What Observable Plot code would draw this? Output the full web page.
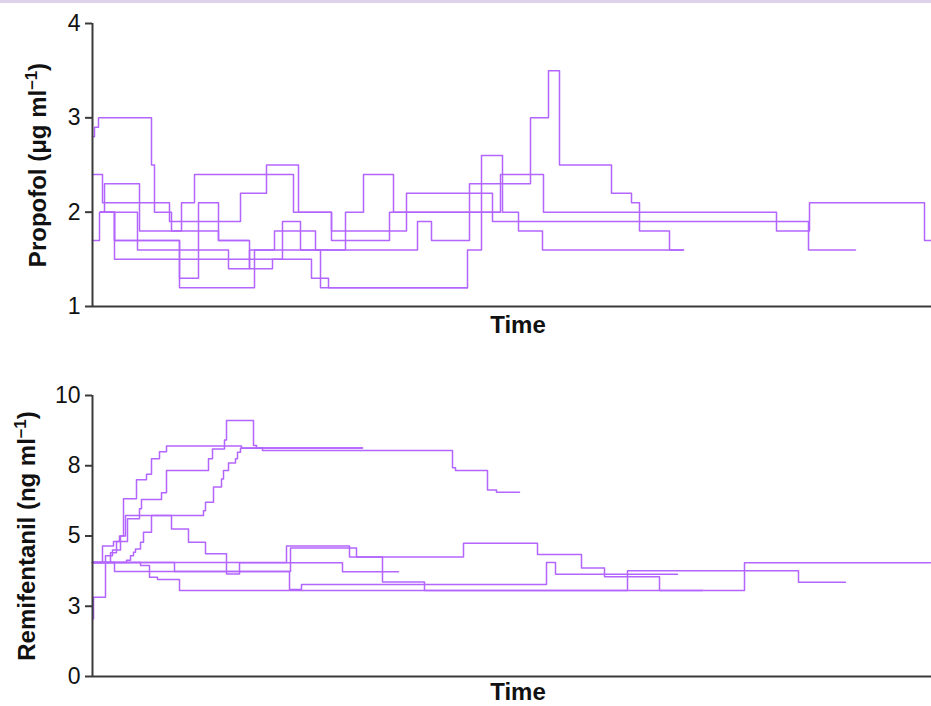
<!DOCTYPE html>
<html>
<head>
<meta charset="utf-8">
<script src="https://cdn.jsdelivr.net/npm/d3@7"></script>
<script src="https://cdn.jsdelivr.net/npm/@observablehq/plot@0.6"></script>
<style>
html, body { margin: 0; padding: 0; background: #ffffff; }
#wrap { position: relative; width: 931px; height: 706px; overflow: hidden; background: #ffffff; }
#band { position: absolute; left: 0; top: 0; width: 931px; height: 3px; background: #ddd3ea; }
#wrap svg { display: block; }
</style>
</head>
<body>
<div id="wrap"><div id="band"></div><div id="top"></div><div id="bot"></div></div>
<script>
// ---------- data: [time, concentration] step points per patient ----------
const propofolA = [[0,2.8],[2,2.9],[6,3.0],[59,2.5],[62,2.0],[79,1.8],[89,2.1],[102,2.4],[201,2.0],[239,1.8],[314,2.2],[400,1.9],[716,1.6],[763,1.6]];
const propofolB = [[0,2.4],[10,2.1],[77,1.9],[148,2.2],[174,2.5],[206,2.0],[239,1.7],[297,2.0],[408,2.4],[451,2.0],[684,1.8],[717,2.1],[832,1.7],[839,1.7]];
const propofolC = [[0,1.7],[7,2.0],[45,1.6],[136,1.4],[157,1.6],[253,2.0],[271,2.4],[301,2.0],[408,2.0]];
const propofolD = [[8,2.0],[12,2.3],[47,1.8],[126,1.7],[157,1.4],[180,1.5],[190,1.9],[208,1.6],[325,1.9],[339,1.7],[377,2.3],[438,3.0],[456,3.5],[467,2.5],[519,2.2],[539,2.1],[547,1.8],[577,1.6],[591,1.6]];
const propofolE = [[8,2.0],[22,1.7],[87,1.3],[106,2.1],[126,1.7],[156,1.7]];
const propofolF = [[8,2.0],[22,1.5],[219,1.3],[236,1.2],[375,1.2]];
const propofolG = [[8,2.0],[22,1.7],[87,1.2],[162,1.6],[182,1.8],[223,1.6],[228,1.2],[375,1.6],[389,2.6],[410,2.0],[426,1.8],[450,1.6],[591,1.6]];
const propofolSeries = [propofolA, propofolB, propofolC, propofolD, propofolE, propofolF, propofolG];
const propofolNames = ["A","B","C","D","E","F","G"];

const remiL1 = [[0,4.06],[194,4.64],[257,4.25],[371,4.74],[445,4.34],[489,3.86],[512,3.55],[567,3.06],[652,4.05],[838,4.05]];
const remiP  = [[0,4.06],[34,4.14],[38,4.3],[41,4.42],[43,4.54],[48,4.78],[51,5.13],[59,5.73],[79,5.25],[96,4.78],[113,4.37],[134,3.65],[147,4.05],[250,3.73],[306,3.73]];
const remiL3 = [[0,2.05],[1,2.82],[13,4.06],[22,3.74],[197,3.1],[209,3.27],[454,4.06],[463,3.64],[585,3.64]];
const remiL4 = [[0,4.06],[48,3.95],[57,3.53],[65,3.45],[87,3.06],[535,3.76],[706,3.35],[753,3.35]];
const remiL5 = [[0,4.06],[82,3.74],[198,4.57],[264,4.25],[290,3.36],[332,3.06],[610,3.06]];
const remiR2 = [[0,4.06],[10,4.64],[21,4.8],[27,5.0],[31,6.33],[44,7.0],[54,7.2],[59,7.75],[67,8.0],[74,8.2],[149,8.13],[270,8.13]];
const remiR3 = [[0,4.06],[18,4.4],[24,4.8],[28,5.0],[33,5.73],[111,5.9],[113,6.2],[121,6.74],[129,7.03],[131,7.33],[136,7.6],[143,7.75],[145,7.98],[148,8.12],[170,8.04],[360,7.43],[363,7.33],[395,6.64],[404,6.56],[427,6.56]];
const remiR4 = [[0,4.06],[13,4.3],[20,4.5],[28,4.8],[35,5.61],[47,5.97],[49,6.3],[69,6.54],[74,7.33],[116,7.75],[120,8.1],[132,8.42],[134,9.11],[161,8.22],[164,8.13],[270,8.13]];
const remiSeries = [remiL1, remiP, remiL3, remiL4, remiL5, remiR2, remiR3, remiR4];
const remiNames = ["L1","P","L3","L4","L5","R2","R3","R4"];

const propofolTicks = [1, 2, 3, 4];
const remiTicks = [0, 2.5, 5, 7.5, 10];
const timeDomain = [0, 839];
const xLabel = "Time";
const propofolLabel = ["Propofol (\u03bcg ml", "\u20131", ")"];
const remiLabel = ["Remifentanil (ng ml", "\u20131", ")"];

// ---------- drawing ----------
const FONT = "'Liberation Sans', Arial, Helvetica, sans-serif";
const LINE = "#b366ff";
const AXIS = "#3a3a3a";
const TICK_FONT = 23;
const TITLE_FONT = 24;

function rows(series, names) {
  return series.flatMap((pairs, i) => pairs.map(([t, v]) => ({patient: names[i], t, v})));
}

function panel({series, names, yDomain, ticks, tickFormat, height, marginTop, marginBottom, label, labelDx, timeDy}) {
  const svg = Plot.plot({
    width: 931, height,
    marginLeft: 92, marginRight: 0, marginTop, marginBottom,
    style: {fontFamily: FONT, fontSize: TICK_FONT + "px", color: "#111", background: "white", overflow: "visible"},
    x: {domain: timeDomain, axis: null},
    y: {domain: yDomain, axis: null},
    marks: [
      Plot.line(rows(series, names), {x: "t", y: "v", z: "patient", curve: "step-after", stroke: LINE, strokeWidth: 1.5}),
      Plot.axisY({ticks, tickFormat, tickSize: 7, tickPadding: 5, label: null, stroke: AXIS, strokeWidth: 2, fill: "#111", fontSize: TICK_FONT}),
      Plot.ruleX([timeDomain[0]], {stroke: AXIS, strokeWidth: 2}),
      Plot.ruleY([yDomain[0]], {stroke: AXIS, strokeWidth: 2}),
      Plot.text([xLabel], {frameAnchor: "bottom", dy: timeDy, dx: 6, fontWeight: "bold", fontSize: TITLE_FONT, fill: "#111"}),
      Plot.text([label.join("")], {frameAnchor: "left", textAnchor: "middle", rotate: -90, dx: labelDx, fontWeight: "bold", fontSize: TITLE_FONT, fill: "#111"})
    ]
  });
  // render the unit exponent as a real superscript
  const full = label.join("");
  svg.querySelectorAll("text").forEach(node => {
    if (node.textContent === full) {
      node.textContent = "";
      const ns = "http://www.w3.org/2000/svg";
      const a = document.createElementNS(ns, "tspan"); a.textContent = label[0];
      const b = document.createElementNS(ns, "tspan"); b.textContent = label[1];
      b.setAttribute("dy", "-9"); b.setAttribute("font-size", "17");
      const c = document.createElementNS(ns, "tspan"); c.textContent = label[2];
      c.setAttribute("dy", "9");
      node.append(a, b, c);
    }
  });
  svg.querySelectorAll('g[aria-label="y-axis tick label"] text').forEach(n => n.setAttribute("font-size", TICK_FONT));
  return svg;
}

document.getElementById("top").append(panel({
  series: propofolSeries, names: propofolNames, yDomain: [1, 4], ticks: propofolTicks,
  tickFormat: d => String(d), height: 350, marginTop: 23, marginBottom: 44,
  label: propofolLabel, labelDx: -54, timeDy: 26
}));
document.getElementById("bot").append(panel({
  series: remiSeries, names: remiNames, yDomain: [0, 10], ticks: remiTicks,
  tickFormat: d => String(Math.round(d)), height: 356, marginTop: 45, marginBottom: 30,
  label: remiLabel, labelDx: -65, timeDy: 23
}));
</script>
</body>
</html>
